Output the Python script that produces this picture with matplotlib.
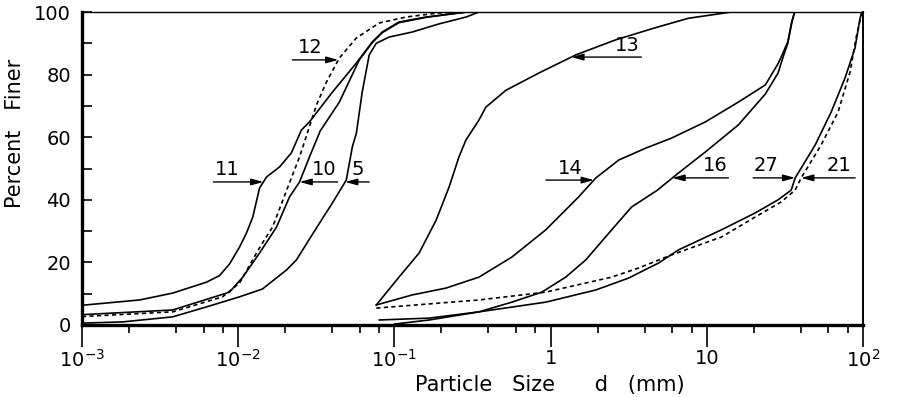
import numpy as np
import matplotlib
matplotlib.use('Agg')
import matplotlib.pyplot as plt
from matplotlib.ticker import LogLocator, MultipleLocator, FixedLocator, NullFormatter

# particle size (mm) and percent finer
d11 = [0.001, 0.00234, 0.00381, 0.00628, 0.0076, 0.0088, 0.0102, 0.0113, 0.0124, 0.0137, 0.0152, 0.0184,
       0.0219, 0.0254, 0.0286, 0.0401, 0.0571, 0.0721, 0.0836, 0.107, 0.16, 0.29]
p11 = [6.3, 8.0, 10.2, 13.7, 15.8, 19.5, 24.9, 29.4, 34.5, 43.8, 47.3, 50.5,
       55.0, 62.3, 64.9, 74.4, 83.7, 90.4, 93.6, 96.8, 98.4, 100]

d10 = [0.001, 0.00381, 0.0088, 0.0107, 0.0137, 0.0176, 0.0213, 0.0247, 0.0286, 0.0335, 0.0444, 0.0596,
       0.0721, 0.0836, 0.107, 0.16, 0.29]
p10 = [3.3, 4.8, 10.5, 15.3, 23.0, 31.3, 40.9, 45.7, 53.7, 62.0, 71.2, 84.7,
       90.2, 93.4, 96.6, 98.3, 100]

d12 = [0.001, 0.00381, 0.00794, 0.0102, 0.0131, 0.0143, 0.0166, 0.0204, 0.0247, 0.0277, 0.0317, 0.0367,
       0.0444, 0.0571, 0.080, 0.119, 0.193, 0.314]
p12 = [2.7, 4.2, 9.0, 13.4, 23.0, 26.2, 31.3, 43.0, 53.7, 61.3, 70.3, 77.6,
       85.3, 91.7, 96.5, 98.4, 99.7, 100]

d5 = [0.001, 0.00183, 0.00381, 0.00628, 0.0102, 0.0143, 0.0204, 0.0236, 0.0299, 0.0346, 0.0401, 0.0492,
      0.0538, 0.0571, 0.0622, 0.069, 0.0765, 0.0926, 0.130, 0.193, 0.288, 0.348]
p5 = [0.6, 1.0, 2.6, 5.8, 9.0, 11.5, 17.6, 20.8, 29.0, 34.0, 39.0, 46.3,
      56.9, 61.3, 74.4, 86.3, 90.0, 92.0, 93.6, 96.2, 98.4, 100]

d13 = [0.0766, 0.107, 0.144, 0.185, 0.224, 0.259, 0.287, 0.348, 0.385, 0.518, 0.841, 1.45, 2.61, 4.7, 7.63, 14.4]
p13 = [6.4, 15.3, 23.0, 33.5, 44.1, 53.7, 59.1, 65.5, 69.6, 75.0, 80.5, 86.3, 91.1, 95.0, 98.0, 100]

d14 = [0.0766, 0.130, 0.214, 0.348, 0.565, 0.931, 1.51, 1.95, 2.73, 4.06, 5.94, 9.8, 15.9, 23.7,
       28.6, 30.5, 33.0, 35.0, 36.5]
p14 = [6.4, 9.6, 11.8, 15.3, 21.7, 30.4, 40.9, 47.0, 52.7, 56.5, 59.7, 64.9, 71.2, 76.7,
       83.5, 86.5, 90.5, 97.0, 100]

d16 = [0.080, 0.167, 0.348, 0.565, 0.879, 1.25, 1.68, 2.46, 3.30, 4.8, 6.45, 9.8, 15.9, 23.7,
       28.6, 30.5, 33.0, 35.0, 36.5]
p16 = [1.6, 2.2, 4.2, 7.3, 10.5, 15.3, 20.8, 30.4, 37.7, 43.0, 48.2, 55.3, 63.9, 73.8,
       80.5, 85.0, 90.0, 96.5, 100]

d27 = [0.10, 0.167, 0.348, 0.931, 1.95, 3.16, 4.91, 6.59, 12.4, 20.4, 28.6, 34.7, 36.8, 49.4,
       62.5, 76.7, 88.9, 95.7, 98.5]
p27 = [0.3, 1.6, 4.2, 7.3, 11.2, 15.0, 19.8, 24.0, 30.4, 35.8, 40.0, 43.1, 47.0, 57.5,
       68.0, 78.9, 88.5, 98.0, 100]

d21 = [0.0766, 0.348, 0.931, 2.46, 3.66, 5.94, 12.4, 20.4, 29.9, 36.8, 40.2, 53.9, 69.2, 82.6, 90.2, 98.5]
p21 = [5.4, 8.0, 10.5, 15.3, 18.2, 22.4, 28.1, 34.5, 39.3, 43.1, 47.0, 57.5, 68.0, 80.8, 91.7, 100]

fig = plt.figure(figsize=(8.99, 3.97), dpi=100)
ax = fig.add_axes([82 / 899, 72 / 397, 781 / 899, 313 / 397])

dash = (0, (2.5, 2))
curves = {
    '11': (d11, p11, '-'),
    '10': (d10, p10, '-'),
    '12': (d12, p12, dash),
    '5': (d5, p5, '-'),
    '13': (d13, p13, '-'),
    '14': (d14, p14, '-'),
    '16': (d16, p16, '-'),
    '27': (d27, p27, '-'),
    '21': (d21, p21, dash),
}
for name, (d, p, ls) in curves.items():
    ax.plot(d, p, color='black', lw=1.2, ls=ls)

ax.set_xscale('log')
ax.set_xlim(1e-3, 1e2)
ax.set_ylim(0, 100)

# labels with arrows: (curve, percent level, text offset px, tail offset px)
labels = [
    ('11', 45.7, -36, -50),
    ('10', 45.7, 25, 38),
    ('5', 45.7, 13, 24),
    ('12', 84.7, -28, -46),
    ('13', 85.6, 56, 70),
    ('14', 46.3, -24, -48),
    ('16', 47.0, 43, 56),
    ('27', 47.0, -29, -42),
    ('21', 47.0, 38, 54),
]
for name, lvl, tx, tail in labels:
    d, p, ls = curves[name]
    xt = 10 ** np.interp(lvl, p, np.log10(d))
    ax.annotate('', xy=(xt, lvl), xytext=(tail, 0), textcoords='offset pixels',
                arrowprops=dict(arrowstyle='-|>,head_length=0.8,head_width=0.22', color='black', lw=1.0,
                                mutation_scale=9, shrinkA=0, shrinkB=0))
    ax.annotate(name, xy=(xt, lvl), xytext=(tx, 12), textcoords='offset pixels',
                ha='center', va='center', fontsize=14)

# ticks
ax.xaxis.set_major_locator(FixedLocator([1e-3, 1e-2, 1e-1, 1, 10, 100]))
ax.xaxis.set_minor_locator(LogLocator(base=10, subs=[2, 4, 6, 8]))
ax.xaxis.set_minor_formatter(NullFormatter())
ax.set_xticklabels(['$10^{-3}$', '$10^{-2}$', '$10^{-1}$', '1', '10', '$10^{2}$'])
ax.tick_params(axis='x', which='major', direction='out', length=16, width=1.2, labelsize=14, pad=1)
ax.tick_params(axis='x', which='minor', direction='out', length=6, width=1.2)
ax.yaxis.set_major_locator(MultipleLocator(20))
ax.yaxis.set_minor_locator(MultipleLocator(10))
ax.tick_params(axis='y', which='both', direction='in', length=7, width=1.2, labelsize=14, pad=8)

ax.spines['left'].set_linewidth(2.4)
ax.spines['bottom'].set_linewidth(2.4)
ax.spines['top'].set_linewidth(1.0)
ax.spines['right'].set_linewidth(1.4)

fig.text(550 / 899, 1 - 385 / 397, 'Particle   Size      d   (mm)', ha='center', va='center', fontsize=15)
fig.text(15 / 899, 1 - 133 / 397, 'Percent   Finer', ha='center', va='center', rotation=90, fontsize=15)

plt.savefig('out.png', dpi=100)
